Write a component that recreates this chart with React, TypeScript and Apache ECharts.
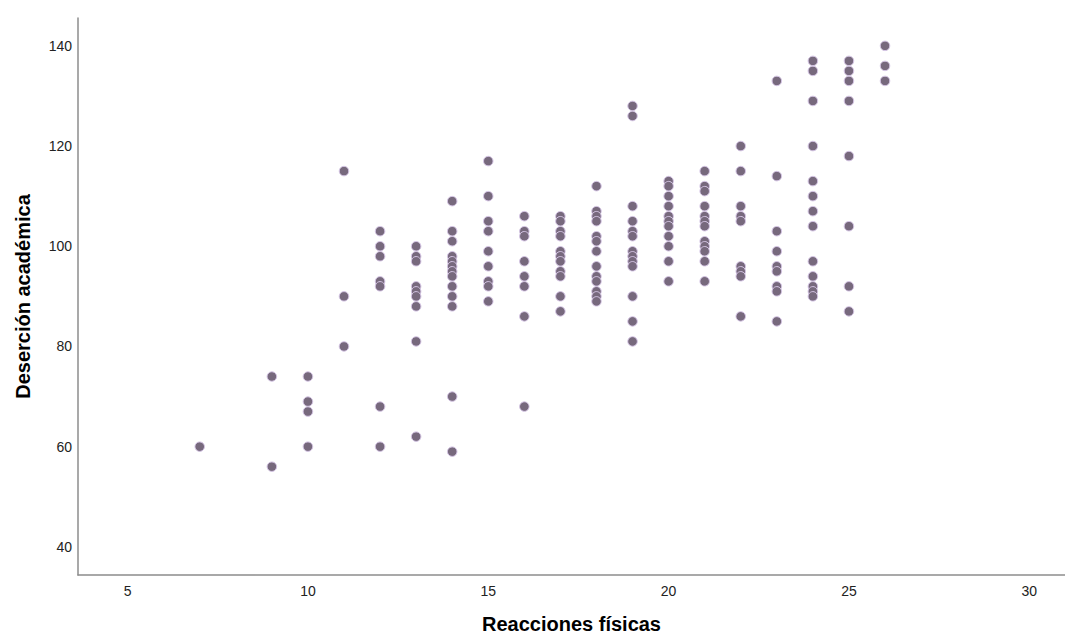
import React, { useEffect, useRef } from "react";
import * as echarts from "echarts";

// Reacciones físicas (x) levels and the Deserción académica (y) values observed at each level
const xLevels: number[] = [7, 9, 10, 11, 12, 13, 14, 15, 16, 17, 18, 19, 20, 21, 22, 23, 24, 25, 26];
const yByLevel: number[][] = [
  [60],
  [74, 56],
  [74, 69, 67, 60],
  [115, 90, 80],
  [103, 100, 98, 93, 92, 68, 60],
  [100, 98, 97, 92, 91, 90, 88, 81, 62],
  [109, 103, 101, 98, 97, 96, 95, 94, 92, 90, 88, 70, 59],
  [117, 110, 105, 103, 99, 96, 93, 92, 89],
  [106, 103, 102, 97, 94, 92, 86, 68],
  [106, 105, 103, 102, 99, 98, 97, 95, 94, 90, 87],
  [112, 107, 106, 105, 102, 101, 99, 96, 94, 93, 91, 90, 89],
  [128, 126, 108, 105, 103, 102, 99, 98, 97, 96, 90, 85, 81],
  [113, 112, 110, 108, 106, 105, 104, 102, 100, 97, 93],
  [115, 112, 111, 108, 106, 105, 104, 101, 100, 99, 97, 93],
  [120, 115, 108, 106, 105, 96, 95, 94, 86],
  [133, 114, 103, 99, 96, 95, 92, 91, 85],
  [137, 135, 129, 120, 113, 110, 107, 104, 97, 94, 92, 91, 90],
  [137, 135, 133, 129, 118, 104, 92, 87],
  [140, 136, 133],
];

const xAxisName = "Reacciones físicas";
const yAxisName = "Deserción académica";

const FONT = 'Arial, "Liberation Sans", sans-serif';

export default function App() {
  const ref = useRef<HTMLDivElement>(null);

  useEffect(() => {
    if (!ref.current) return;
    const chart = echarts.init(ref.current, undefined, { renderer: "svg" });

    const points: number[][] = [];
    xLevels.forEach((x, i) => {
      yByLevel[i].forEach((y) => points.push([x, y]));
    });

    chart.setOption({
      animation: false,
      backgroundColor: "#ffffff",
      grid: { left: 78, right: 0, top: 18, bottom: 61, containLabel: false },
      xAxis: {
        type: "value",
        min: 3.625,
        max: 30.99,
        splitNumber: 5,
        name: xAxisName,
        nameLocation: "middle",
        nameGap: 39,
        nameTextStyle: { fontFamily: FONT, fontSize: 20, fontWeight: "bold", color: "#000" },
        axisLine: { show: true, lineStyle: { color: "#8c8c8c", width: 1.5 } },
        axisTick: { show: false },
        splitLine: { show: false },
        axisLabel: {
          showMinLabel: false,
          showMaxLabel: false,
          margin: 9,
          fontFamily: FONT,
          fontSize: 14,
          color: "#222",
          formatter: (v: number) => (Math.abs(v % 5) < 1e-6 ? String(v) : ""),
        },
      },
      yAxis: {
        type: "value",
        min: 34.38,
        max: 145.56,
        splitNumber: 5,
        name: yAxisName,
        nameLocation: "middle",
        nameGap: 45,
        nameTextStyle: { fontFamily: FONT, fontSize: 20, fontWeight: "bold", color: "#000" },
        axisLine: { show: true, lineStyle: { color: "#8c8c8c", width: 1.5 } },
        axisTick: { show: false },
        splitLine: { show: false },
        axisLabel: {
          showMinLabel: false,
          showMaxLabel: false,
          margin: 6,
          fontFamily: FONT,
          fontSize: 14,
          color: "#222",
          formatter: (v: number) => (Math.abs(v % 20) < 1e-6 ? String(v) : ""),
        },
      },
      series: [
        {
          type: "scatter",
          data: points,
          symbol: "circle",
          symbolSize: 9.5,
          itemStyle: {
            color: "#77697d",
            borderColor: "#d6c6e6",
            borderWidth: 1,
            opacity: 1,
          },
        },
      ],
    });

    return () => chart.dispose();
  }, []);

  return (
    <div
      ref={ref}
      style={{ position: "fixed", left: 0, top: 0, width: 1065, height: 639 }}
    />
  );
}
